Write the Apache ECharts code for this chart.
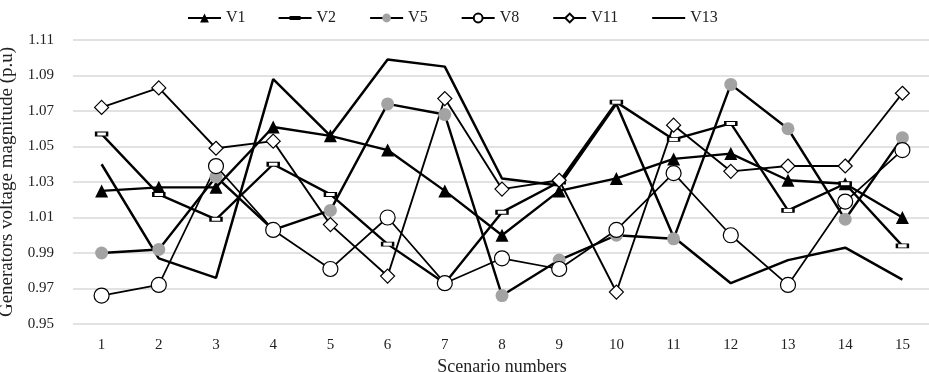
<!DOCTYPE html>
<html>
<head>
<meta charset="utf-8">
<script src="https://cdn.jsdelivr.net/npm/echarts@6/dist/echarts.min.js"></script>
<style>
html, body { margin: 0; padding: 0; background: #fff; }
#chart { width: 929px; height: 372px; }
</style>
</head>
<body>
<div id="chart"></div>
<script>
const scenarios = ["1", "2", "3", "4", "5", "6", "7", "8", "9", "10", "11", "12", "13", "14", "15"]
const V1 = [1.025, 1.027, 1.027, 1.061, 1.056, 1.048, 1.025, 1.000, 1.025, 1.032, 1.043, 1.046, 1.031, 1.029, 1.010]
const V2 = [1.057, 1.023, 1.009, 1.040, 1.023, 0.995, 0.973, 1.013, 1.030, 1.075, 1.054, 1.063, 1.014, 1.029, 0.994]
const V5 = [0.990, 0.992, 1.033, 1.003, 1.014, 1.074, 1.068, 0.966, 0.986, 1.000, 0.998, 1.085, 1.060, 1.009, 1.055]
const V8 = [0.966, 0.972, 1.039, 1.003, 0.981, 1.010, 0.973, 0.987, 0.981, 1.003, 1.035, 1.000, 0.972, 1.019, 1.048]
const V11 = [1.072, 1.083, 1.049, 1.053, 1.006, 0.977, 1.077, 1.026, 1.031, 0.968, 1.062, 1.036, 1.039, 1.039, 1.080]
const V13 = [1.040, 0.987, 0.976, 1.088, 1.056, 1.099, 1.095, 1.032, 1.028, 1.074, 0.999, 0.973, 0.986, 0.993, 0.975]
const yMin = 0.95
const yMax = 1.11
const yStep = 0.02

const font = "Liberation Serif"
const chart = echarts.init(document.getElementById("chart"))

const lineSeries = (name, data, symbol, size, itemStyle, width) => ({
	name,
	type: "line",
	data,
	symbol,
	symbolSize: size,
	showAllSymbol: true,
	itemStyle,
	lineStyle: { color: "#000", width: width || 2.4 },
	emphasis: { disabled: true },
	animation: false
})

chart.setOption({
	backgroundColor: "#fff",
	textStyle: { fontFamily: font, color: "#222" },
	legend: {
		top: 5,
		left: 182,
		itemWidth: 33,
		itemHeight: 11,
		itemGap: 33,
		textStyle: { fontFamily: font, fontSize: 16, color: "#222" },
		data: [
			{ name: "V1" },
			// line with a small dash in the middle, drawn as one filled path
			{ name: "V2", icon: "path://M0,1.1h33v1.8h-33z M11,0h11v4h-11z", itemStyle: { color: "#000", borderWidth: 0 } },
			{ name: "V5" },
			{ name: "V8" },
			{ name: "V11" },
			{ name: "V13", itemStyle: { opacity: 0 } }
		]
	},
	grid: { left: 73, right: -2, top: 40, bottom: 48, outerBoundsMode: "none" },
	xAxis: {
		type: "category",
		data: scenarios,
		name: "Scenario numbers",
		nameLocation: "middle",
		nameGap: 30,
		nameTextStyle: { fontFamily: font, fontSize: 18, color: "#222" },
		axisLine: { show: false },
		axisTick: { show: false },
		axisLabel: { fontFamily: font, fontSize: 15, color: "#222", margin: 14 }
	},
	yAxis: {
		type: "value",
		min: yMin,
		max: yMax,
		interval: yStep,
		name: "Generators voltage magnitude (p.u)",
		nameLocation: "middle",
		nameGap: 50,
		nameTextStyle: { fontFamily: font, fontSize: 19, color: "#222" },
		axisLine: { show: false },
		axisTick: { show: false },
		axisLabel: { fontFamily: font, fontSize: 15, color: "#222", margin: 19, formatter: v => v.toFixed(2) },
		splitLine: { lineStyle: { color: "#d9d9d9", width: 1.5 } }
	},
	series: [
		lineSeries("V1", V1, "triangle", 13, { color: "#000" }),
		lineSeries("V2", V2, "rect", [11, 4], { color: "#fff", borderColor: "#000", borderWidth: 1.5 }),
		lineSeries("V5", V5, "circle", 13, { color: "#a3a3a3" }),
		lineSeries("V8", V8, "circle", 15, { color: "#fff", borderColor: "#000", borderWidth: 1.2 }, 1.7),
		lineSeries("V11", V11, "diamond", 14, { color: "#fff", borderColor: "#000", borderWidth: 1.2 }, 1.9),
		lineSeries("V13", V13, "none", 0, { color: "#000" }, 2.5)
	]
})
</script>
</body>
</html>
